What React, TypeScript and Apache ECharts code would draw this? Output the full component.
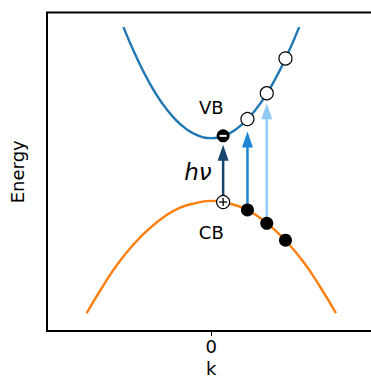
import React, { useEffect, useRef } from "react";
import * as echarts from "echarts";

// Lower band (labelled CB), sampled along k
const cbK = [-1, -0.875, -0.75, -0.625, -0.5, -0.375, -0.25, -0.125, 0, 0.125, 0.25, 0.375, 0.5, 0.625, 0.75, 0.875, 1];
const cbE = [-1, -0.77, -0.56, -0.39, -0.25, -0.14, -0.06, -0.02, 0, -0.02, -0.06, -0.14, -0.25, -0.39, -0.56, -0.77, -1];

// Upper band (labelled VB), sampled along k
const vbK = [-0.705, -0.6, -0.5, -0.4, -0.3, -0.2, -0.1, 0, 0.1, 0.2, 0.3, 0.4, 0.5, 0.6, 0.705];
const vbE = [1.55, 1.28, 1.06, 0.88, 0.74, 0.64, 0.58, 0.56, 0.58, 0.64, 0.74, 0.88, 1.06, 1.28, 1.55];

// Electron-hole pair at small k
const pairK = 0.095;
const holeE = -0.01;
const electronE = 0.58;

// Occupied states on the lower band and empty states on the upper band
const carrierK = [0.29, 0.445, 0.595];
const occupiedE = [-0.08, -0.2, -0.35];
const emptyE = [0.73, 0.96, 1.27];

// Excitation arrows: k, start energy, tip energy
const arrowK = [0.095, 0.29, 0.445];
const arrowFrom = [-0.01, -0.08, -0.2];
const arrowTo = [0.5, 0.62, 0.87];
const arrowColors = ["#17456b", "#1f86d6", "#8ecaf4"];

const FONT = "DejaVu Sans";

export default function App() {
  const ref = useRef<HTMLDivElement>(null);

  useEffect(() => {
    if (!ref.current) return;
    const chart = echarts.init(ref.current, null, { renderer: "svg" });

    const zip = (xs: number[], ys: number[]) => xs.map((x, i) => [x, ys[i]]);

    chart.setOption({
      animation: false,
      backgroundColor: "#fff",
      grid: {
        left: 47,
        top: 12.5,
        bottom: 47,
        right: -4.6,
        outerBoundsMode: "none",
        containLabel: false,
        show: true,
        borderColor: "#000",
        borderWidth: 2,
        backgroundColor: "transparent",
      },
      xAxis: {
        type: "value",
        min: -1.318,
        max: 1.318,
        axisLine: { show: false, onZero: false },
        axisTick: { show: true, customValues: [0], length: 5, lineStyle: { color: "#000", width: 1 } },
        axisLabel: { show: true, customValues: [0], color: "#000", fontSize: 18, fontFamily: FONT, margin: 6 },
        splitLine: { show: false },
        name: "k",
        nameLocation: "middle",
        nameGap: 25,
        nameTextStyle: { color: "#000", fontSize: 18, lineHeight: 16, fontFamily: FONT },
      },
      yAxis: {
        type: "value",
        min: -1.16,
        max: 1.68,
        axisLine: { show: false, onZero: false },
        axisTick: { show: false },
        axisLabel: { show: false },
        splitLine: { show: false },
        name: "Energy",
        nameLocation: "middle",
        nameRotate: 90,
        nameGap: 21,
        nameTextStyle: { color: "#000", fontSize: 18, fontFamily: FONT },
      },
      series: [
        {
          type: "line",
          data: zip(cbK, cbE),
          smooth: true,
          showSymbol: false,
          lineStyle: { color: "#ff7f0e", width: 2.4 },
          z: 2,
        },
        {
          type: "line",
          data: zip(vbK, vbE),
          smooth: true,
          showSymbol: false,
          lineStyle: { color: "#1f77b4", width: 2.4 },
          z: 2,
        },
        {
          type: "custom",
          z: 3,
          encode: { x: 0, y: [1, 2] },
          data: arrowK.map((k, i) => [k, arrowFrom[i], arrowTo[i]]),
          renderItem: (params: any, api: any) => {
            const base = api.coord([api.value(0), api.value(1)]);
            const tip = api.coord([api.value(0), api.value(2)]);
            const color = arrowColors[params.dataIndex];
            const headLen = 16;
            const headW = 11;
            return {
              type: "group",
              children: [
                {
                  type: "line",
                  shape: { x1: base[0], y1: base[1], x2: tip[0], y2: tip[1] + headLen - 1 },
                  style: { stroke: color, lineWidth: 2.5 },
                },
                {
                  type: "polygon",
                  shape: {
                    points: [
                      [tip[0], tip[1]],
                      [tip[0] - headW / 2, tip[1] + headLen],
                      [tip[0] + headW / 2, tip[1] + headLen],
                    ],
                  },
                  style: { fill: color },
                },
              ],
            };
          },
        },
        {
          // occupied states
          type: "scatter",
          data: zip(carrierK, occupiedE),
          symbol: "circle",
          symbolSize: 13,
          itemStyle: { color: "#000", opacity: 1 },
          z: 5,
        },
        {
          // empty states
          type: "scatter",
          data: zip(carrierK, emptyE),
          symbol: "circle",
          symbolSize: 13,
          itemStyle: { color: "#fff", borderColor: "#000", borderWidth: 1.2, opacity: 1 },
          z: 5,
        },
        {
          // electron: filled circle with a minus sign
          type: "scatter",
          data: [[pairK, electronE]],
          symbol: "circle",
          symbolSize: 13,
          itemStyle: { color: "#000", opacity: 1 },
          z: 5,
        },
        {
          type: "scatter",
          data: [[pairK, electronE]],
          symbol: "rect",
          symbolSize: [7, 2],
          itemStyle: { color: "#fff", opacity: 1 },
          z: 6,
        },
        {
          // hole: open circle with a plus sign
          type: "scatter",
          data: [[pairK, holeE]],
          symbol: "circle",
          symbolSize: 13,
          itemStyle: { color: "#fff", borderColor: "#000", borderWidth: 1.2, opacity: 1 },
          z: 5,
        },
        {
          type: "scatter",
          data: [[pairK, holeE], [pairK, holeE]],
          symbol: "rect",
          symbolSize: (_v: any, p: any) => (p.dataIndex === 0 ? [8, 1.3] : [1.3, 8]),
          itemStyle: { color: "#000", opacity: 1 },
          z: 6,
        },
        {
          // text annotations
          type: "scatter",
          symbolSize: 0,
          silent: true,
          z: 7,
          itemStyle: { opacity: 1 },
          label: {
            show: true,
            position: "inside",
            color: "#000",
            fontFamily: FONT,
            fontSize: 18,
            formatter: (p: any) => p.name,
          },
          data: [
            { name: "VB", value: [0, 0.83] },
            { name: "CB", value: [0, -0.286] },
            {
              name: "hν",
              value: [-0.107, 0.254],
              label: { fontSize: 23, fontStyle: "italic" },
            },
          ],
        },
      ],
    });

    return () => chart.dispose();
  }, []);

  return (
    <div
      ref={ref}
      style={{ position: "absolute", left: 0, top: 0, width: 371, height: 378, background: "#fff" }}
    />
  );
}
